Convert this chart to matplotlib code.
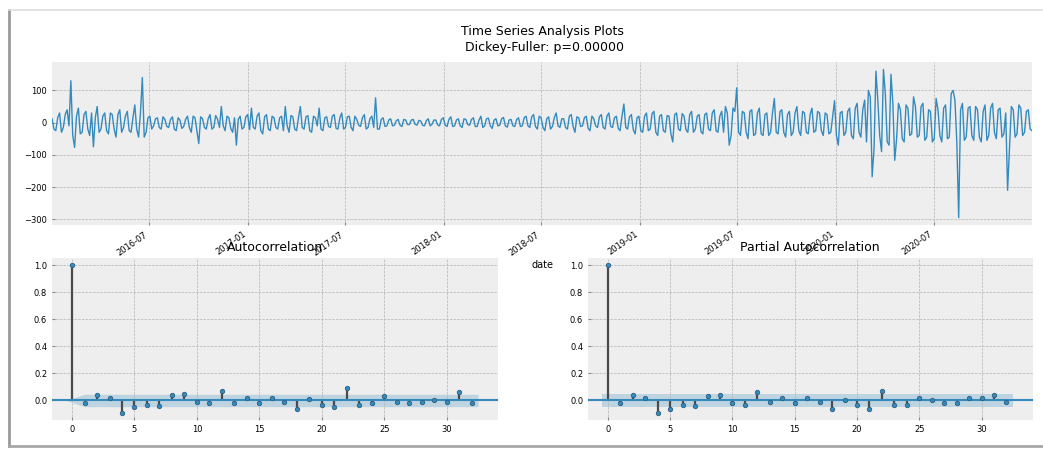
import numpy as np
import pandas as pd
import matplotlib
matplotlib.use("Agg")
import matplotlib.pyplot as plt
import matplotlib.dates as mdates
from matplotlib.lines import Line2D

# Differenced series sampled twice a week: start-of-week and mid-week readings per year
week_2016 = [12, -25, 30, -15, 40, 130, -77, 45, -30, 35, -40, -75, 50, -20, 30, -35,
             25, -45, 40, -15, 35, -30, 55, -45, 140, -30, 20, -10, 15, -20, 10, -15,
             18, -25, 8, -12, 20, -30, 15, -65, 12, -20, 25, -15, 10, 50, -25, 15,
             -30, -70, 20, -15, 25]
mid_2016 = [-20, 15, -30, 25, -10, -40, 20, -35, 25, -20, 30, 15, -30, 20, -25, 30,
            -20, 25, -30, 20, -25, 15, -20, 30, -45, 15, -20, 12, -15, 18, -12, 10,
            -20, 15, -18, 10, -15, 20, -25, 18, -15, 12, -20, 22, -15, -10, 20, -18,
            15, 10, -20, 18, -22]
week_2017 = [45, -20, 30, -35, 25, -25, 15, -20, 20, 50, -30, 18, -25, 50, -20, 22,
             -30, 15, 45, -25, 18, -15, 25, -20, 30, -15, 20, -25, 10, -12, 25, -15,
             20, 77, -20, 15, -10, 12, -8, 10, -12, 8, -6, 10, -8, 5, -10, 12,
             -5, 8, -10, 15]
mid_2017 = [-15, 20, -25, 18, -20, 20, -15, 15, -25, -10, 22, -20, 15, -15, 18, -25,
            20, -10, -20, 15, -12, 20, -18, 15, -20, 18, -15, 20, -8, 15, -20, 12,
            -15, -20, 10, -12, 8, -10, 6, -8, 10, -6, 8, -5, 7, -8, 6, -10,
            8, -7, 10, -8]
week_2018 = [-12, 18, -10, 12, -15, 10, -8, 15, -12, 20, -10, 14, -18, 12, -8, 16,
             -14, 10, -12, 15, -10, 20, -15, 25, -20, 15, -25, 18, -12, 30, -15, 12,
             -20, 25, -30, 15, -10, 20, -25, 12, -15, 25, -20, 30, -15, 20, -25, 58,
             -20, 25, -35, 20]
mid_2018 = [10, -12, 8, -10, 12, -6, 10, -12, 8, -15, 12, -10, 8, -10, 12, -10,
            8, -10, 10, -12, 15, -10, 18, -12, 20, -15, 12, -20, 15, -10, 12, -15,
            20, -12, 18, -12, 15, -18, 20, -10, 18, -15, 20, -12, 15, -18, 20, -15,
            18, -22, 15, -25]
week_2019 = [-30, 30, -20, 35, -40, 25, -30, 20, -60, 30, -25, 20, -30, 35, -20, 25,
             -35, 30, -25, 40, -30, 35, 50, -70, 45, 108, -40, 30, -50, 40, -35, 45,
             -40, 30, -30, 75, -35, 40, -45, 35, -30, 50, -40, 30, -35, 45, -25, 30,
             -40, 25, -30, 68]
mid_2019 = [20, -25, 28, -30, 20, -25, 22, -35, 25, -20, 28, -22, 25, -30, 20, -28,
            25, -20, 30, -25, 20, -30, 30, -40, 35, -30, 35, -30, 35, -40, 30, -35,
            25, -40, 30, -30, 35, -30, 25, -40, 30, -25, 35, -30, 25, -30, 35, -25,
            30, -35, 20, -40]
week_2020 = [-70, 35, -30, 45, -50, 60, -45, 70, 100, -168, 160, -40, 165, -60, 150, -117,
             60, -50, 55, -40, 80, -45, 50, -55, 40, -60, 75, -40, 45, -50, 90, 70,
             -295, 60, -45, 50, -55, 40, -60, 55, -40, 60, -50, 45, -35, -210, 50, -45,
             55, -40, 35, -20]
mid_2020 = [30, -40, 35, -40, 45, -30, 40, -60, 80, -80, 70, -90, 90, -70, 60, -50,
            40, -60, 45, -35, 50, -40, 60, -45, 35, -50, 40, -60, 55, -45, 100, -60,
            40, -55, 45, -40, 50, -45, 35, -55, 45, -30, 40, -45, 30, -80, 40, -35,
            45, -30, 40, -25]

series_values = []
for wk, mid in [(week_2016, mid_2016), (week_2017, mid_2017), (week_2018, mid_2018),
                (week_2019, mid_2019), (week_2020, mid_2020)]:
    for a, b in zip(wk, mid):
        series_values.extend([a, b])
dates = pd.date_range("2016-01-03", periods=len(series_values), freq="84h")

# Correlation estimates for lags 0..32
acf_values = [1.0, -0.02, 0.04, 0.02, -0.09, -0.05, -0.03, -0.04, 0.04, 0.05, -0.01,
              -0.02, 0.07, -0.02, 0.02, -0.02, 0.02, -0.01, -0.06, 0.01, -0.03, -0.05,
              0.09, -0.03, -0.02, 0.03, -0.01, -0.02, -0.01, 0.0, -0.01, 0.06, -0.02]
pacf_values = [1.0, -0.02, 0.04, 0.02, -0.09, -0.06, -0.03, -0.04, 0.03, 0.04, -0.02,
               -0.03, 0.06, -0.01, 0.02, -0.02, 0.02, -0.01, -0.06, 0.0, -0.03, -0.06,
               0.07, -0.03, -0.03, 0.02, 0.0, -0.02, -0.02, 0.02, 0.02, 0.04, -0.01]
conf_halfwidth = 0.046
p_value = 0.0

BLUE = "#348ABD"
TICK_FS = 6


def corr_plot(ax, values, title, zero_width_at_lag0):
    lags = np.arange(len(values))
    vals = np.asarray(values)
    ax.vlines(lags, 0, vals, colors="#4a4a4a", lw=1.6)
    ax.axhline(0, color=BLUE, lw=1.5)
    ax.plot(lags, vals, ls="None", marker="o", ms=3.2, color=BLUE,
            mec="#2b5f80", mew=0.6)
    band_x = lags.astype(float).copy()
    band_x[0] -= 0.5
    band_x[-1] += 0.5
    half = np.full(len(vals), conf_halfwidth)
    if zero_width_at_lag0:
        half[0] = 0.0
    ax.fill_between(band_x, -half, half, color=BLUE, alpha=0.25, lw=0)
    ax.margins(0.05)
    ax.set_xlim(-1.6, len(vals) + 1.1)
    ax.set_title(title, fontsize=9, pad=5)
    ax.tick_params(labelsize=TICK_FS, length=2, color="#888888")
    ax.set_xticks([0, 5, 10, 15, 20, 25, 30])


with plt.style.context("bmh"):
    fig = plt.figure(figsize=(10.43, 4.5), dpi=100)
    fig.patch.set_facecolor("white")

    ts_ax = fig.add_axes([0.0499, 0.500, 0.9396, 0.362])
    acf_ax = fig.add_axes([0.0499, 0.0667, 0.4276, 0.360])
    pacf_ax = fig.add_axes([0.5638, 0.0667, 0.4262, 0.360])

    ts_ax.plot(dates, series_values, color=BLUE, lw=1.0)
    ts_ax.set_xlim(dates[0], dates[-1])
    ts_ax.margins(y=0.05)
    ts_ax.set_yticks([-300, -200, -100, 0, 100])
    ts_ax.xaxis.set_major_locator(mdates.MonthLocator(bymonth=[1, 7]))
    ts_ax.xaxis.set_major_formatter(mdates.DateFormatter("%Y-%m"))
    ts_ax.tick_params(labelsize=TICK_FS, length=2, color="#888888")
    for lbl in ts_ax.get_xticklabels():
        lbl.set_rotation(35)
        lbl.set_ha("right")
    ts_ax.set_xlabel("date", fontsize=7, labelpad=2)
    ts_ax.set_title("Time Series Analysis Plots\n Dickey-Fuller: p={0:.5f}".format(p_value),
                    fontsize=9, pad=8, linespacing=1.3)

    corr_plot(acf_ax, acf_values, "Autocorrelation", True)
    corr_plot(pacf_ax, pacf_values, "Partial Autocorrelation", False)

    for ax in (ts_ax, acf_ax, pacf_ax):
        for sp in ax.spines.values():
            sp.set_visible(False)

    # window frame around the figure
    W, H = 1043.0, 450.0
    frame = [
        ((9 / W, 9 / W), (1 - 10 / H, 1 - 446 / H), "#9a9a9a", 2.0),
        ((9 / W, 1.0), (1 - 446 / H, 1 - 446 / H), "#a8a8a8", 2.0),
        ((9 / W, 1.0), (1 - 10 / H, 1 - 10 / H), "#dddddd", 1.2),
    ]
    for xs, ys, c, lw in frame:
        fig.add_artist(Line2D(xs, ys, transform=fig.transFigure, color=c, lw=lw))

    fig.savefig("out.png", dpi=100, facecolor="white")
